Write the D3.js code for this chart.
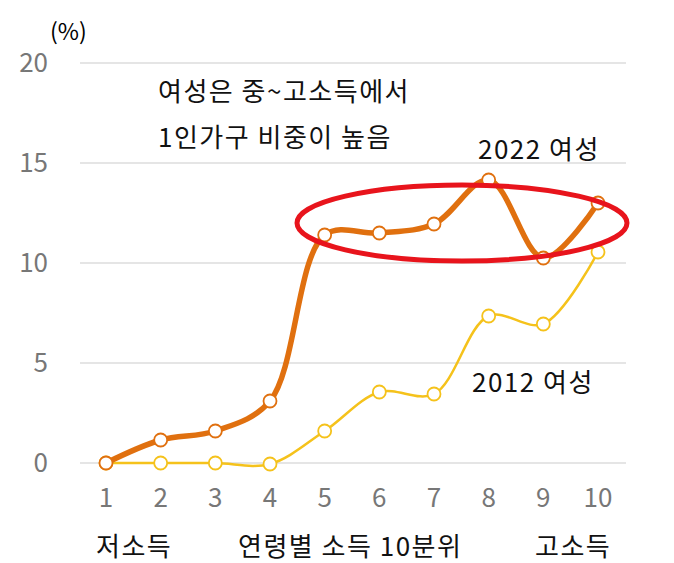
<!DOCTYPE html><html><head><meta charset="utf-8">
<script src="https://cdn.jsdelivr.net/npm/d3@7"></script>
<style>body{margin:0;background:#fff}text{font-family:"Noto Sans CJK KR","Noto Sans",sans-serif}</style></head><body>
<svg id="c" width="674" height="563"></svg>
<script>
const deciles=[1,2,3,4,5,6,7,8,9,10];
const women2022=[0,1.15,1.6,3.1,11.4,11.5,11.95,14.15,10.25,13.0];
const women2012=[0,0,0,-0.05,1.6,3.55,3.45,7.35,6.95,10.55];
const yTicks=[0,5,10,15,20];
const svg=d3.select("#c");
const x=d3.scaleLinear().domain([1,10]).range([106,598]);
const y=d3.scaleLinear().domain([0,20]).range([463,63]);
svg.append("g").selectAll("line").data(yTicks).join("line")
 .attr("x1",80).attr("x2",626).attr("y1",d=>y(d)).attr("y2",d=>y(d)).attr("stroke","#ddd").attr("stroke-width",1.5);
svg.append("g").selectAll("text").data(yTicks).join("text")
 .attr("x",48).attr("y",d=>y(d)+9).attr("text-anchor","end").attr("fill","#777").attr("font-size",26).text(d=>d);
svg.append("g").selectAll("text").data(deciles).join("text")
 .attr("x",d=>x(d)).attr("y",507).attr("text-anchor","middle").attr("fill","#777").attr("font-size",26).text(d=>d);
svg.append("text").attr("x",50).attr("y",40).attr("font-size",23).text("(%)");
const line=d3.line().x((d,i)=>x(deciles[i])).y(d=>y(d)).curve(d3.curveCatmullRom.alpha(0.5));
function series(data,color,w){
 svg.append("path").attr("d",line(data)).attr("fill","none").attr("stroke",color).attr("stroke-width",w);
 svg.append("g").selectAll("circle").data(data).join("circle").attr("cx",(d,i)=>x(deciles[i])).attr("cy",d=>y(d))
  .attr("r",6.5).attr("fill","#fff").attr("stroke",color).attr("stroke-width",1.8);
}
series(women2012,"#F5C21B",2.5);
series(women2022,"#E0700F",5.5);
svg.append("ellipse").attr("cx",462).attr("cy",223).attr("rx",165).attr("ry",38).attr("fill","none").attr("stroke","#E8141C").attr("stroke-width",5);
const t=(s,xx,yy)=>svg.append("text").attr("x",xx).attr("y",yy).attr("font-size",26).attr("letter-spacing",1.5).attr("fill","#111").text(s);
t("여성은 중~고소득에서",158,101);t("1인가구 비중이 높음",158,147);
t("2022 여성",478,159);t("2012 여성",472,392);
t("저소득",96,556);t("연령별 소득 10분위",238,556);t("고소득",535,556);
</script></body></html>
